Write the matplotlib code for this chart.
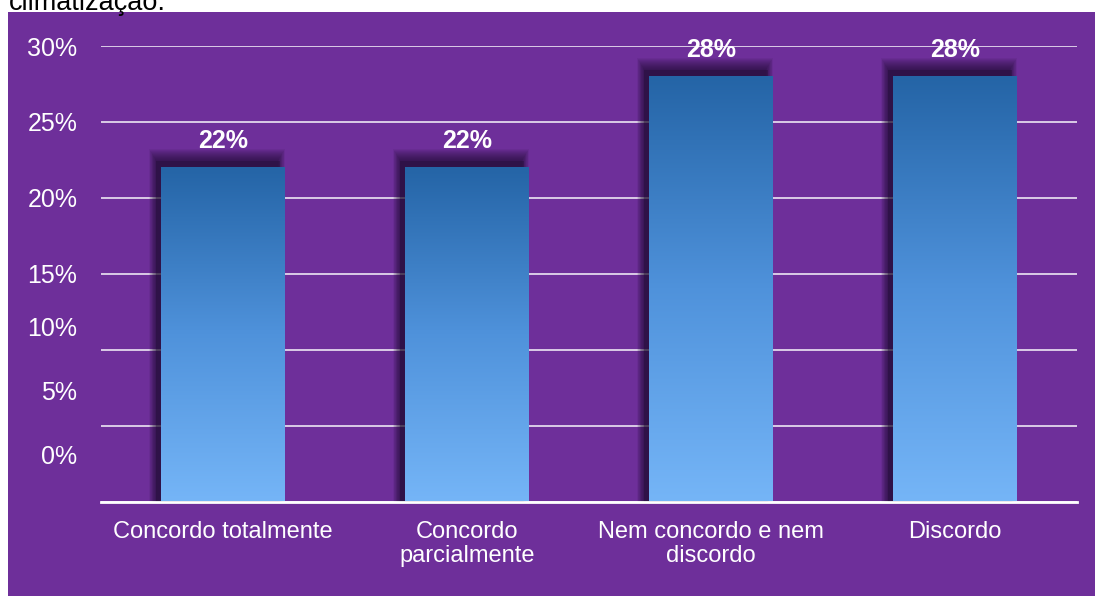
import numpy as np
import matplotlib.pyplot as plt
from matplotlib.patches import Rectangle
from matplotlib.colors import LinearSegmentedColormap
import matplotlib.transforms as mtransforms

plt.rcParams['font.family'] = ['Liberation Sans', 'DejaVu Sans']

# dados
categorias = ['Concordo totalmente', 'Concordo\nparcialmente',
              'Nem concordo e nem\ndiscordo', 'Discordo']
valores = [22, 22, 28, 28]
yticks = [0, 5, 10, 15, 20, 25, 30]
ytick_labels = ['0%', '5%', '10%', '15%', '20%', '25%', '30%']
titulo_cortado = 'climatização.'

ROXO = '#6E2F9A'
W, H, DPI = 1095, 596, 100

fig = plt.figure(figsize=(W / DPI, H / DPI), dpi=DPI, facecolor='white')
# painel roxo (atrás de tudo)
fig.patches.append(Rectangle((8 / W, 0), (W - 8) / W, (H - 12) / H,
                             transform=fig.transFigure, facecolor=ROXO,
                             edgecolor='none', zorder=-5))
# texto do slide cortado no topo
fig.text(9 / W, 1 - 10 / H, titulo_cortado, fontsize=19.5, color='black',
         va='baseline', ha='left')

ax = fig.add_axes([101 / W, (H - 501.5) / H, 976 / W, 455.5 / H])
ax.set_facecolor('none')
x = np.arange(len(categorias))
bars = ax.bar(x, valores, width=0.505, color='none', edgecolor='none', zorder=3)

# gradiente nas barras
cmap = LinearSegmentedColormap.from_list('azul', ['#75B5F7', '#4F92DB', '#2464A6'])
grad = np.linspace(0, 1, 256).reshape(-1, 1)
for b in bars:
    bx, by, bw, bh = b.get_x(), b.get_y(), b.get_width(), b.get_height()
    im = ax.imshow(grad, cmap=cmap, origin='lower', aspect='auto',
                   extent=[bx, bx + bw, by, by + bh], zorder=3)
    im.set_clip_path(b)
ax.set_xlim(-0.5, len(categorias) - 0.5)
ax.set_ylim(0, 30)

# sombra das barras (em pixels), puxada para cima e para a esquerda
fig.canvas.draw()
for b in bars:
    bb = b.get_window_extent()
    for k in range(12, 0, -1):
        r = Rectangle((bb.x0 - 5 - 0.6 * k, bb.y0), bb.width + 1.2 * k - 2,
                      bb.height + 6 + k,
                      transform=None, facecolor='#1a0a2a', edgecolor='none',
                      alpha=0.07, zorder=2)
        ax.add_patch(r)
    r = Rectangle((bb.x0 - 5, bb.y0), bb.width, bb.height + 6,
                  transform=None, facecolor='#1a0a2a', edgecolor='none',
                  alpha=0.3, zorder=2)
    ax.add_patch(r)

# rótulos de valor
for xi, v in zip(x, valores):
    ax.annotate(f'{v}%', (xi, v), xytext=(0, 19), textcoords='offset points',
                ha='center', va='center', fontsize=18, fontweight='bold',
                color='white', zorder=5)

# grade
ax.set_yticks(yticks)
ax.set_yticklabels(ytick_labels)
ax.yaxis.grid(True, color='#EDE6F3', linewidth=1.2, zorder=1)
ax.set_axisbelow(True)
for s in ['top', 'right', 'left']:
    ax.spines[s].set_visible(False)
ax.spines['bottom'].set_color('white')
ax.spines['bottom'].set_linewidth(2)
ax.spines['bottom'].set_zorder(4)
ax.tick_params(axis='y', length=0, pad=17, labelsize=18, labelcolor='white')
ax.tick_params(axis='x', length=0, pad=14, labelsize=17, labelcolor='white')
ax.set_xticks(x)
ax.set_xticklabels(categorias, linespacing=1.15, va='top')

# deslocamento dos rótulos inferiores, como no slide original
desloc = {'0%': 47, '5%': 35, '10%': 23}
for lab in ax.get_yticklabels():
    dy = desloc.get(lab.get_text(), 0)
    if dy:
        lab.set_transform(lab.get_transform() +
                          mtransforms.ScaledTranslation(0, dy / DPI, fig.dpi_scale_trans))

fig.savefig('out.png', dpi=DPI, facecolor='white')
